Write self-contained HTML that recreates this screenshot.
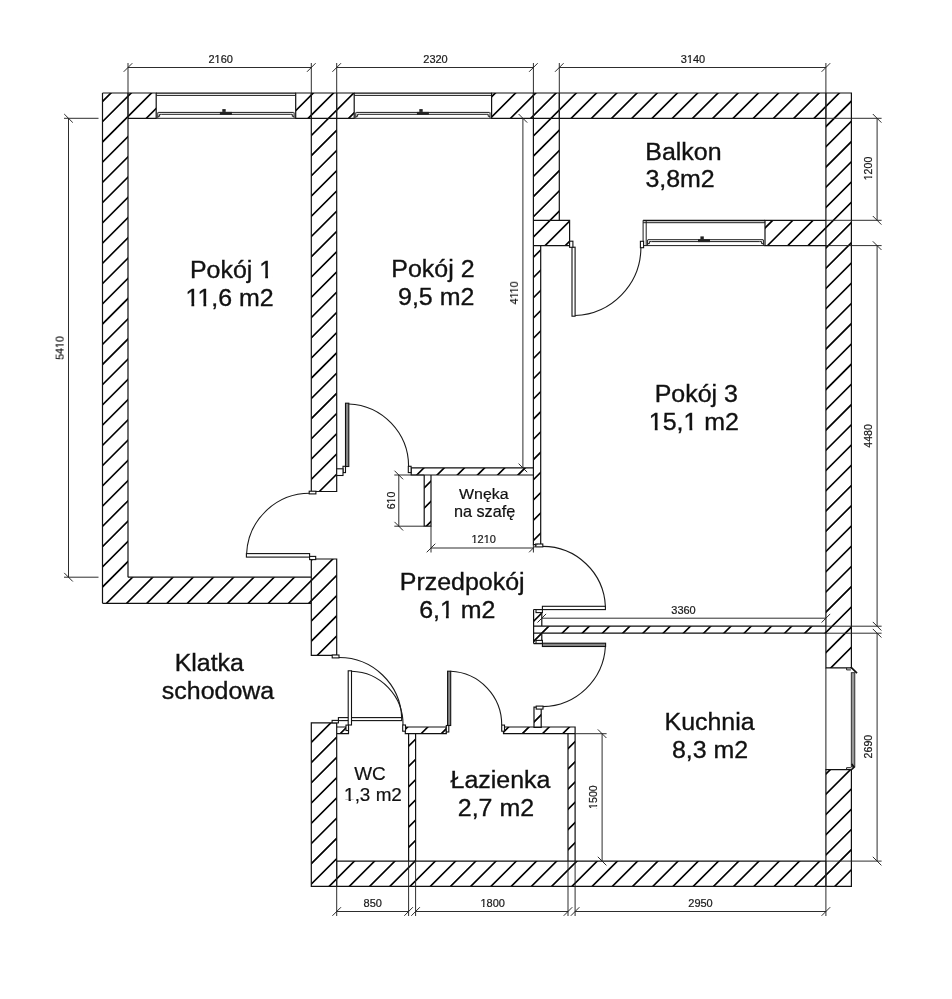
<!DOCTYPE html>
<html><head><meta charset="utf-8"><title>Plan</title>
<style>
html,body{margin:0;padding:0;background:#fff;}
svg{display:block;font-family:"Liberation Sans",sans-serif;}
.w{fill:none;stroke:#111;stroke-width:1.2;}
.h{fill:none;stroke:#000;stroke-width:1.65;}
.t{fill:none;stroke:#1c1c1c;stroke-width:1;}
.t2{fill:none;stroke:#222;stroke-width:1.2;}
.t3{fill:none;stroke:#111;stroke-width:1.3;}
.hd{fill:#222;stroke:none;}
.ks{fill:#999;stroke:#222;stroke-width:.9;}
.kb{fill:none;stroke:#111;stroke-width:1.7;}
.l{fill:#fff;stroke:#111;stroke-width:1.1;}
.lf{fill:#888;stroke:#111;stroke-width:1.1;}
.d{fill:none;stroke:#222;stroke-width:.95;}
.a{fill:none;stroke:#1a1a1a;stroke-width:1.1;}
text{fill:#111;stroke:#111;stroke-width:.35px;}
.dt{font-size:11px;fill:#1a1a1a;stroke:#1a1a1a;stroke-width:.22px;}
.e{fill:#fff;stroke:none;}
</style></head><body>
<svg width="952" height="999" viewBox="0 0 952 999">
<rect x="0" y="0" width="952" height="999" fill="#fff"/>
<defs><clipPath id="wc">
<rect x="102.5" y="93" width="25.5" height="484.2"/>
<rect x="102.5" y="577.2" width="208.8" height="26.1"/>
<rect x="128" y="93" width="28.2" height="25.3"/>
<rect x="295.7" y="93" width="15.6" height="25.3"/>
<rect x="311.3" y="93" width="25.4" height="398.5"/>
<rect x="336.7" y="93" width="17.5" height="25.3"/>
<rect x="491.6" y="93" width="41.8" height="25.3"/>
<rect x="533.4" y="93" width="25.9" height="127.3"/>
<rect x="559.3" y="93" width="266.6" height="25.3"/>
<rect x="825.9" y="93" width="25.5" height="574.9"/>
<rect x="825.9" y="769.7" width="25.5" height="116.7"/>
<rect x="311.3" y="559" width="25.4" height="96.4"/>
<rect x="311.3" y="722.8" width="25.4" height="163.6"/>
<rect x="336.7" y="861.1" width="489.2" height="25.3"/>
<rect x="533.4" y="220.3" width="36.2" height="25.3"/>
<rect x="533.4" y="245.6" width="7.3" height="299"/>
<rect x="765" y="220.3" width="60.9" height="25.3"/>
<rect x="411.2" y="467.9" width="122.2" height="7.1"/>
<rect x="424.2" y="475" width="6.8" height="51.2"/>
<rect x="533.6" y="609.5" width="8.2" height="34.1"/>
<rect x="533.6" y="626.2" width="292.3" height="7"/>
<rect x="534" y="707.1" width="7.2" height="20.2"/>
<rect x="405.3" y="727" width="41" height="6.7"/>
<rect x="503.5" y="727" width="71.6" height="6.7"/>
<rect x="408.6" y="733.7" width="7" height="127.4"/>
<rect x="568" y="733.7" width="7.1" height="127.4"/>
<rect x="336.7" y="727" width="11.8" height="6.7"/>
</clipPath></defs>
<g clip-path="url(#wc)"><path class="h" d="M163.5 0L-835.5 999M183.8 0L-815.2 999M204 0L-795 999M224.2 0L-774.8 999M244.5 0L-754.5 999M264.7 0L-734.3 999M284.9 0L-714.1 999M305.1 0L-693.9 999M325.4 0L-673.6 999M345.6 0L-653.4 999M365.8 0L-633.2 999M386.1 0L-612.9 999M406.3 0L-592.7 999M426.5 0L-572.5 999M446.8 0L-552.2 999M467 0L-532 999M487.2 0L-511.8 999M507.4 0L-491.6 999M527.7 0L-471.3 999M547.9 0L-451.1 999M568.1 0L-430.9 999M588.4 0L-410.6 999M608.6 0L-390.4 999M628.8 0L-370.2 999M649.1 0L-349.9 999M669.3 0L-329.7 999M689.5 0L-309.5 999M709.8 0L-289.2 999M730 0L-269 999M750.2 0L-248.8 999M770.4 0L-228.6 999M790.7 0L-208.3 999M810.9 0L-188.1 999M831.1 0L-167.9 999M851.4 0L-147.6 999M871.6 0L-127.4 999M891.8 0L-107.2 999M912.1 0L-86.9 999M932.3 0L-66.7 999M952.5 0L-46.5 999M972.7 0L-26.3 999M993 0L-6 999M1013.2 0L14.2 999M1033.4 0L34.4 999M1053.7 0L54.7 999M1073.9 0L74.9 999M1094.1 0L95.1 999M1114.4 0L115.4 999M1134.6 0L135.6 999M1154.8 0L155.8 999M1175 0L176 999M1195.3 0L196.3 999M1215.5 0L216.5 999M1235.7 0L236.7 999M1256 0L257 999M1276.2 0L277.2 999M1296.4 0L297.4 999M1316.7 0L317.7 999M1336.9 0L337.9 999M1357.1 0L358.1 999M1377.3 0L378.3 999M1397.6 0L398.6 999M1417.8 0L418.8 999M1438 0L439 999M1458.3 0L459.3 999M1478.5 0L479.5 999M1498.7 0L499.7 999M1519 0L520 999M1539.2 0L540.2 999M1559.4 0L560.4 999M1579.6 0L580.6 999M1599.9 0L600.9 999M1620.1 0L621.1 999M1640.3 0L641.3 999M1660.6 0L661.6 999M1680.8 0L681.8 999M1701 0L702 999M1721.2 0L722.2 999M1741.5 0L742.5 999M1761.7 0L762.7 999M1781.9 0L782.9 999M1802.2 0L803.2 999M1822.4 0L823.4 999M1842.6 0L843.6 999M1862.9 0L863.9 999M1883.1 0L884.1 999M1903.3 0L904.3 999M1923.6 0L924.6 999M1943.8 0L944.8 999"/></g>
<path class="w" d="M102.5 93H128M102.5 93V577.2M128 93V577.2M102.5 603.3H311.3M102.5 577.2V603.3M311.3 577.2V603.3M128 93H156.2V118.3H128ZM295.7 93H311.3V118.3H295.7ZM311.3 93H336.7V491.5H311.3ZM336.7 93H354.2V118.3H336.7ZM491.6 93H533.4V118.3H491.6ZM533.4 93H559.3V220.3H533.4ZM559.3 93H825.9V118.3H559.3ZM825.9 93H851.4V667.9H825.9ZM825.9 769.7H851.4V886.4H825.9ZM311.3 559H336.7V655.4H311.3ZM311.3 722.8H336.7V886.4H311.3ZM336.7 861.1H825.9V886.4H336.7ZM533.4 220.3H569.6V245.6H533.4ZM533.4 245.6H540.7V544.6H533.4ZM765 220.3H825.9V245.6H765ZM411.2 467.9H533.4V475H411.2ZM424.2 475H431V526.2H424.2ZM533.6 609.5H541.8M533.6 643.6H541.8M533.6 609.5V643.6M533.6 626.2H825.9M533.6 633.2H825.9M534 707.1H541.2V727.3H534ZM405.3 727H446.3V733.7H405.3ZM503.5 727H575.1V733.7H503.5ZM408.6 733.7H415.6V861.1H408.6ZM568 733.7H575.1V861.1H568ZM336.7 727H348.5V733.7H336.7ZM128 577.2H311.3M541.8 609.5V626.2M541.8 633.2V643.6M311.3 118.3H336.7M533.4 118.3H559.3"/>
<path class="t3" d="M156.2 93.2H295.7"/>
<path class="t" d="M156.2 118.3H295.7M156.2 95.4H295.7M158.2 112.4H293.7M161.7 114.3H290.2M157.8 118.1V112.4M159.6 116.3V114.3H161.7M157.8 116.3H159.6M294.1 118.1V112.4M292.3 116.3V114.3H290.2M294.1 116.3H292.3"/>
<rect class="hd" x="219.9" y="111.9" width="12" height="2.9"/>
<rect class="hd" x="222.3" y="109.1" width="3.4" height="2.8"/>
<path class="t3" d="M354.2 93.2H491.6"/>
<path class="t" d="M354.2 118.3H491.6M354.2 95.4H491.6M356.2 112.4H489.6M359.7 114.3H486.1M355.8 118.1V112.4M357.6 116.3V114.3H359.7M355.8 116.3H357.6M490 118.1V112.4M488.2 116.3V114.3H486.1M490 116.3H488.2"/>
<rect class="hd" x="416.9" y="111.9" width="12" height="2.9"/>
<rect class="hd" x="419.3" y="109.1" width="3.4" height="2.8"/>
<path class="t3" d="M643.1 220.5H765"/>
<path class="t" d="M643.1 245.6H765M643.1 222.7H765M643.1 220.3V245.6M646.2 220.3V245.6M648 239.7H763M651.5 241.6H759.5M647.6 245.4V239.7M649.4 243.6V241.6H651.5M647.6 243.6H649.4M763.4 245.4V239.7M761.6 243.6V241.6H759.5M763.4 243.6H761.6"/>
<rect class="hd" x="698" y="239.2" width="12" height="2.9"/>
<rect class="hd" x="700.4" y="236.4" width="3.4" height="2.8"/>
<rect class="ks" x="851.3" y="672.7" width="3.5" height="94.2"/>
<path class="t" d="M825.9 667.9V769.7M846.6 667.9V669.9H850.9M846.6 769.7V767.7H850.9"/>
<path class="kb" d="M851.4 667.6L857 673.1M851.8 763.9L854 767.2L851.8 769.4"/>
<rect class="l" x="246.4" y="553.6" width="63.2" height="3.5"/>
<path class="a" d="M246.6 553.6A63.2 63.2 0 0 1 309.7 493.3"/>
<rect class="l" x="309.2" y="491.2" width="6.7" height="2.7"/>
<rect class="l" x="309.6" y="556.4" width="6.1" height="3.2"/>
<rect class="lf" x="345.5" y="403.2" width="3.3" height="63.3"/>
<path class="a" d="M348.8 404A62.4 62.4 0 0 1 408.6 466.5"/>
<rect class="l" x="408.3" y="466.3" width="2.8" height="6.3"/>
<rect class="l" x="343" y="466.3" width="2.5" height="6.3"/>
<rect class="l" x="336.7" y="468.8" width="6.3" height="6.7"/>
<rect class="l" x="572" y="247.2" width="3.1" height="69"/>
<path class="a" d="M575.1 315.5A68.3 68.3 0 0 0 640.9 247.8"/>
<rect class="l" x="569.6" y="241.2" width="3.3" height="6.1"/>
<rect class="l" x="640.4" y="241.3" width="3.2" height="6.4"/>
<rect class="l" x="542.4" y="606.3" width="63" height="3.3"/>
<path class="a" d="M605.4 606.5A62.8 62.8 0 0 0 542.4 546.4"/>
<rect class="l" x="535.7" y="544" width="7.1" height="2.9"/>
<rect class="l" x="536" y="609.6" width="6.4" height="3"/>
<rect class="lf" x="542.4" y="643.2" width="63.2" height="3.3"/>
<path class="a" d="M605.4 646.5A63.8 63.8 0 0 1 542.8 706.6"/>
<rect class="l" x="536" y="640.4" width="6.4" height="3"/>
<rect class="l" x="536.2" y="706.1" width="6.8" height="3"/>
<rect class="l" x="338.4" y="717.6" width="63.3" height="3"/>
<path class="a" d="M401.7 718A62.6 62.6 0 0 0 338.8 657.5"/>
<rect class="l" x="332.2" y="655" width="6.8" height="2.9"/>
<rect class="l" x="332.1" y="720.4" width="6.3" height="2.5"/>
<rect class="l" x="348.2" y="670.8" width="3.3" height="54.2"/>
<path class="a" d="M351.5 671.2A53 53 0 0 1 403 725"/>
<rect class="l" x="402.7" y="725" width="2.8" height="6.2"/>
<rect class="l" x="346" y="725.1" width="2.5" height="5.4"/>
<rect class="lf" x="447.6" y="671.2" width="3.1" height="54.3"/>
<path class="a" d="M450.6 671.3A53.3 53.5 0 0 1 501.7 725.1"/>
<rect class="l" x="501.7" y="725.1" width="2.8" height="6.1"/>
<rect class="l" x="446.3" y="725.5" width="2.5" height="6.5"/>
<path class="d" d="M128 67.5H311.3M123.7 71.8L132.3 63.2M307 71.8L315.6 63.2M336.7 67.5H533.4M332.4 71.8L341 63.2M529.1 71.8L537.7 63.2M559.3 67.5H825.9M555 71.8L563.6 63.2M821.6 71.8L830.2 63.2M128 63V118.3M311.3 63V118.3M336.7 63V118.3M533.4 63V118.3M559.3 63V118.3M825.9 63V118.3M68.5 118.3V577.2M64.2 114L72.8 122.6M64.2 572.9L72.8 581.5M64 118.3H98.5M64 577.2H98.5M877.1 118.3V220.3M872.8 114L881.4 122.6M872.8 216L881.4 224.6M877.1 245.6V626.2M872.8 241.3L881.4 249.9M872.8 621.9L881.4 630.5M877.1 633.2V861.1M872.8 628.9L881.4 637.5M872.8 856.8L881.4 865.4M825.9 118.3H881.6M825.9 220.3H881.6M825.9 245.6H881.6M825.9 626.2H881.6M825.9 633.2H881.6M825.9 861.1H881.6M336.7 911.5H408.6M332.4 915.8L341 907.2M404.3 915.8L412.9 907.2M415.6 911.5H568M411.3 915.8L419.9 907.2M563.7 915.8L572.3 907.2M575.1 911.5H825.9M570.8 915.8L579.4 907.2M821.6 915.8L830.2 907.2M336.7 861.1V916M408.6 861.1V916M415.6 861.1V916M568 861.1V916M575.1 861.1V916M825.9 861.1V916M522.9 118.3V467.9M518.6 114L527.2 122.6M518.6 463.6L527.2 472.2M398.8 475V526.2M394.5 470.7L403.1 479.3M394.5 521.9L403.1 530.5M394.3 475H424.2M394.3 526.2H424.2M431 548H533.4M426.7 552.3L435.3 543.7M529.1 552.3L537.7 543.7M431 526.2V552.5M533.4 544.6V552.5M541.8 618.2H825.9M537.5 622.5L546.1 613.9M821.6 622.5L830.2 613.9M602.1 733.7V861.1M597.8 729.4L606.4 738M597.8 856.8L606.4 865.4M575.1 733.7H606.6"/>
<g opacity="0.999">
<g transform="translate(220.7 62.9)"><text id="t0" class="dt" text-anchor="middle">2160</text>
<rect class="e" x="-5.80" y="-1.27" width="2.14" height="2.87"/>
<rect class="e" x="-2.09" y="-1.27" width="2.01" height="2.87"/>
</g>
<g transform="translate(435.5 62.9)"><text id="t1" class="dt" text-anchor="middle">2320</text>
</g>
<g transform="translate(693 62.9)"><text id="t2" class="dt" text-anchor="middle">3140</text>
<rect class="e" x="-5.80" y="-1.27" width="2.14" height="2.87"/>
<rect class="e" x="-2.09" y="-1.27" width="2.01" height="2.87"/>
</g>
<g transform="translate(63.6 348) rotate(-90)"><text id="t3" class="dt" style="font-size:10.6px" text-anchor="middle">5410</text>
<rect class="e" x="0.31" y="-1.24" width="2.05" height="2.84"/>
<rect class="e" x="3.90" y="-1.24" width="1.93" height="2.84"/>
</g>
<g transform="translate(872.2 168.5) rotate(-90)"><text id="t4" class="dt" style="font-size:10.6px" text-anchor="middle">1200</text>
<rect class="e" x="-11.47" y="-1.24" width="2.05" height="2.84"/>
<rect class="e" x="-7.89" y="-1.24" width="1.93" height="2.84"/>
</g>
<g transform="translate(872.2 435.9) rotate(-90)"><text id="t5" class="dt" style="font-size:10.6px" text-anchor="middle">4480</text>
</g>
<g transform="translate(872.2 746.6) rotate(-90)"><text id="t6" class="dt" style="font-size:10.6px" text-anchor="middle">2690</text>
</g>
<g transform="translate(372.7 906.9)"><text id="t7" class="dt" text-anchor="middle">850</text>
</g>
<g transform="translate(492.7 906.9)"><text id="t8" class="dt" text-anchor="middle">1800</text>
<rect class="e" x="-11.91" y="-1.27" width="2.14" height="2.87"/>
<rect class="e" x="-8.20" y="-1.27" width="2.01" height="2.87"/>
</g>
<g transform="translate(700.5 906.9)"><text id="t9" class="dt" text-anchor="middle">2950</text>
</g>
<g transform="translate(518 292.8) rotate(-90)"><text id="t10" class="dt" style="font-size:10.6px" text-anchor="middle">4110</text>
<rect class="e" x="-5.18" y="-1.24" width="2.05" height="2.84"/>
<rect class="e" x="-1.60" y="-1.24" width="1.93" height="2.84"/>
<rect class="e" x="-0.09" y="-1.24" width="2.05" height="2.84"/>
<rect class="e" x="3.50" y="-1.24" width="1.93" height="2.84"/>
</g>
<g transform="translate(394.6 500.5) rotate(-90)"><text id="t11" class="dt" style="font-size:10.6px" text-anchor="middle">610</text>
<rect class="e" x="-2.64" y="-1.24" width="2.05" height="2.84"/>
<rect class="e" x="0.95" y="-1.24" width="1.93" height="2.84"/>
</g>
<g transform="translate(483.7 543.4)"><text id="t12" class="dt" text-anchor="middle">1210</text>
<rect class="e" x="-11.91" y="-1.27" width="2.14" height="2.87"/>
<rect class="e" x="-8.20" y="-1.27" width="2.01" height="2.87"/>
<rect class="e" x="0.32" y="-1.27" width="2.14" height="2.87"/>
<rect class="e" x="4.03" y="-1.27" width="2.01" height="2.87"/>
</g>
<g transform="translate(683.5 613.6)"><text id="t13" class="dt" text-anchor="middle">3360</text>
</g>
<g transform="translate(597.2 797.1) rotate(-90)"><text id="t14" class="dt" style="font-size:10.6px" text-anchor="middle">1500</text>
<rect class="e" x="-11.47" y="-1.24" width="2.05" height="2.84"/>
<rect class="e" x="-7.89" y="-1.24" width="1.93" height="2.84"/>
</g>
<g transform="translate(231.5 278.2) scale(1.027 1)"><text id="t15" font-size="24.3" text-anchor="middle">Pokój 1</text>
<rect class="e" x="27.73" y="-2.27" width="5.08" height="3.87"/>
<rect class="e" x="35.56" y="-2.27" width="4.80" height="3.87"/>
</g>
<g transform="translate(229.6 305.7) scale(1.027 1)"><text id="t16" font-size="24.3" text-anchor="middle">11,6 m2</text>
<rect class="e" x="-42.26" y="-2.27" width="5.08" height="3.87"/>
<rect class="e" x="-34.43" y="-2.27" width="4.80" height="3.87"/>
<rect class="e" x="-30.56" y="-2.27" width="5.08" height="3.87"/>
<rect class="e" x="-22.73" y="-2.27" width="4.80" height="3.87"/>
</g>
<g transform="translate(432.9 277.3) scale(1.027 1)"><text id="t17" font-size="24.3" text-anchor="middle">Pokój 2</text>
</g>
<g transform="translate(436.2 305) scale(1.027 1)"><text id="t18" font-size="24.3" text-anchor="middle">9,5 m2</text>
</g>
<g transform="translate(645.3 159.8) scale(1.027 1)"><text id="t19" font-size="24.3" text-anchor="start">Balkon</text>
</g>
<g transform="translate(645.4 187.4) scale(1.027 1)"><text id="t20" font-size="24.3" text-anchor="start">3,8m2</text>
</g>
<g transform="translate(696.3 401.9) scale(1.027 1)"><text id="t21" font-size="24.3" text-anchor="middle">Pokój 3</text>
</g>
<g transform="translate(693.9 430.1) scale(1.027 1)"><text id="t22" font-size="24.3" text-anchor="middle">15,1 m2</text>
<rect class="e" x="-43.17" y="-2.27" width="5.08" height="3.87"/>
<rect class="e" x="-35.33" y="-2.27" width="4.80" height="3.87"/>
<rect class="e" x="-9.41" y="-2.27" width="5.08" height="3.87"/>
<rect class="e" x="-1.57" y="-2.27" width="4.80" height="3.87"/>
</g>
<g transform="translate(462.2 589.6) scale(1.027 1)"><text id="t23" font-size="24.3" text-anchor="middle">Przedpokój</text>
</g>
<g transform="translate(457.3 617.6) scale(1.027 1)"><text id="t24" font-size="24.3" text-anchor="middle">6,1 m2</text>
<rect class="e" x="-16.16" y="-2.27" width="5.08" height="3.87"/>
<rect class="e" x="-8.33" y="-2.27" width="4.80" height="3.87"/>
</g>
<g transform="translate(209.3 670.8) scale(1.027 1)"><text id="t25" font-size="24.3" text-anchor="middle">Klatka</text>
</g>
<g transform="translate(218 698.6) scale(1.027 1)"><text id="t26" font-size="24.3" text-anchor="middle">schodowa</text>
</g>
<g transform="translate(664.5 730.2) scale(1.027 1)"><text id="t27" font-size="24.3" text-anchor="start">Kuchnia</text>
</g>
<g transform="translate(671.9 757.7) scale(1.027 1)"><text id="t28" font-size="24.3" text-anchor="start">8,3 m2</text>
</g>
<g transform="translate(450.6 788) scale(1.027 1)"><text id="t29" font-size="24.3" text-anchor="start">Łazienka</text>
</g>
<g transform="translate(457.8 816.1) scale(1.027 1)"><text id="t30" font-size="24.3" text-anchor="start">2,7 m2</text>
</g>
<g transform="translate(370 780.2) scale(1.027 1)"><text id="t31" font-size="18.4" style="stroke-width:0.2px" text-anchor="middle">WC</text>
</g>
<g transform="translate(373 801.2) scale(1.027 1)"><text id="t32" font-size="18.4" style="stroke-width:0.2px" text-anchor="middle">1,3 m2</text>
<rect class="e" x="-27.57" y="-1.82" width="3.78" height="3.42"/>
<rect class="e" x="-21.56" y="-1.82" width="3.56" height="3.42"/>
</g>
<g transform="translate(483.8 498.6) scale(1.027 1)"><text id="t33" font-size="15.5" style="stroke-width:0.2px" text-anchor="middle">Wnęka</text>
</g>
<g transform="translate(484.6 516.8) scale(1.027 1)"><text id="t34" font-size="15.8" style="stroke-width:0.2px" text-anchor="middle">na szafę</text>
</g>
</g>
</svg></body></html>
